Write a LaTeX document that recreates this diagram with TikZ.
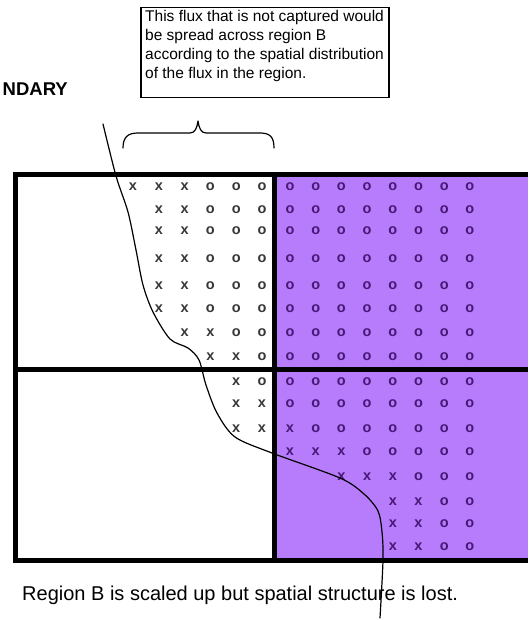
\documentclass[tikz,border=0pt]{standalone}
\usepackage{fontspec}
\setmainfont{Liberation Sans}
\definecolor{regionfill}{RGB}{183,124,252}
\definecolor{markdark}{RGB}{55,55,55}
\definecolor{markpurple}{RGB}{72,24,118}
\begin{document}
\begin{tikzpicture}[x=1pt,y=-1pt,
  gridline/.style={line width=5pt, line join=miter},
  mk/.style={inner sep=0pt, font=\fontsize{14.5}{15}\selectfont\bfseries},
  mkwhite/.style={mk, text=markdark},
  mkpurple/.style={mk, text=markpurple},
  thinline/.style={line width=1.2pt, line join=round, line cap=round}]
\useasboundingbox (0,0) rectangle (528,620);

% purple region B
\fill[regionfill] (274,175) rectangle (528,560);

% marks: left top quadrant
\foreach \y/\pat [count=\r] in {187/{x,x,x,o,o,o},210/{-,x,x,o,o,o},231/{-,x,x,o,o,o},259/{-,x,x,o,o,o},286/{-,x,x,o,o,o},309/{-,x,x,o,o,o},333/{-,-,x,x,o,o},357/{-,-,-,x,x,o}}{
  \foreach \m [count=\i] in \pat {
    \if\m-\else\node[mkwhite] (lt-\r-\i) at ({133+25.8*(\i-1)},\y) {\m};\fi
  }
}
% marks: left bottom quadrant
\foreach \y/\pat [count=\r] in {382/{-,-,-,-,x,o},404/{-,-,-,-,x,x},429/{-,-,-,-,x,x}}{
  \foreach \m [count=\i] in \pat {
    \if\m-\else\node[mkwhite] (lb-\r-\i) at ({133+25.8*(\i-1)},\y) {\m};\fi
  }
}
% marks: right top quadrant
\foreach \y [count=\r] in {187,210,231,259,286,309,333,357}{
  \foreach \i in {1,...,8} {
    \node[mkpurple] (rt-\r-\i) at ({290+25.7*(\i-1)},\y) {o};
  }
}
% marks: right bottom quadrant
\foreach \y/\pat [count=\r] in {382/{o,o,o,o,o,o,o,o},404/{o,o,o,o,o,o,o,o},429/{x,o,o,o,o,o,o,o},452/{x,x,x,o,o,o,o,o},477/{-,-,x,x,x,o,o,o},502/{-,-,-,-,x,x,o,o},524/{-,-,-,-,x,x,o,o},547/{-,-,-,-,x,x,o,o}}{
  \foreach \m [count=\i] in \pat {
    \if\m-\else\node[mkpurple] (rb-\r-\i) at ({290+25.7*(\i-1)},\y) {\m};\fi
  }
}

% grid lines
\draw[gridline] (528,175) -- (15.5,175) -- (15.5,560) -- (528,560);
\draw[gridline] (15.5,369) -- (528,369);
\draw[gridline] (274,175) -- (274,560);

% boundary curve
\draw[thinline] plot[smooth, tension=0.5] coordinates {(103,124) (116,176) (128,212) (136,250) (143,285) (153,312) (170,339) (188,348) (199,360) (206,385) (217,413) (235,437) (272,453) (340,478) (364,494) (378,511) (382,532) (383,560) (380,618)};

% brace
\draw[thinline] (123,148) .. controls (123,137) and (128,133) .. (138,133) -- (190,133) .. controls (195,133) and (197,128) .. (198,121) .. controls (199,128) and (201,133) .. (206,133) -- (260,133) .. controls (270,133) and (274,137) .. (274,148);

% note box
\node[draw, line width=1.5pt, minimum width=248pt, minimum height=90pt, anchor=north west, inner sep=0pt] (notebox) at (140,7) {};
\node[anchor=north west, align=left, inner sep=0pt, font=\fontsize{15.5}{19}\selectfont] (notetext) at (145,10.5) {This flux that is not captured would\\be spread across region B\\according to the spatial distribution\\of the flux in the region.};

% labels
\node[anchor=base east, inner sep=0pt, font=\fontsize{18.5}{20}\selectfont\bfseries] (boundary) at (68,96) {NDARY};
\node[anchor=base west, inner sep=0pt, font=\fontsize{20}{24}\selectfont] (caption) at (22,600) {Region B is scaled up but spatial structure is lost.};
\end{tikzpicture}
\end{document}
